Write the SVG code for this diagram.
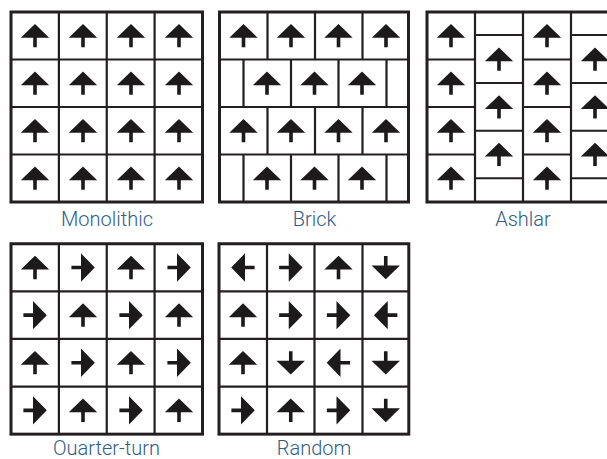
<svg xmlns="http://www.w3.org/2000/svg" xmlns:xlink="http://www.w3.org/1999/xlink" width="607" height="459" viewBox="0 0 607 459">
<defs>
<style>
.bg{fill:#ffffff}
.outer{fill:none;stroke:#231f20;stroke-width:3}
.inner{fill:none;stroke:#231f20;stroke-width:2.2}
.arr{fill:#1c1a1b}
.lbl{font-family:Roboto,"Liberation Sans",sans-serif;font-weight:300;font-size:20px;fill:#2f5d87;text-anchor:middle}
</style>
<path id="a" class="arr" d="M0,-11.8 L14.2,2 L1.8,2 L1.8,11.6 L-1.8,11.6 L-1.8,2 L-14.2,2 Z"/>
</defs>
<rect class="bg" x="0" y="0" width="607" height="459"/>

<g id="monolithic">
<path class="inner" d="M58.9,12V202M106.75,12V202M154.6,12V202M11,59.5H202.5M11,107H202.5M11,154.5H202.5"/>
<rect class="outer" x="11" y="12" width="191.5" height="190"/>
<use xlink:href="#a" transform="translate(35,35.75)"/>
<use xlink:href="#a" transform="translate(83,35.75)"/>
<use xlink:href="#a" transform="translate(131,35.75)"/>
<use xlink:href="#a" transform="translate(179,35.75)"/>
<use xlink:href="#a" transform="translate(35,83.25)"/>
<use xlink:href="#a" transform="translate(83,83.25)"/>
<use xlink:href="#a" transform="translate(131,83.25)"/>
<use xlink:href="#a" transform="translate(179,83.25)"/>
<use xlink:href="#a" transform="translate(35,130.75)"/>
<use xlink:href="#a" transform="translate(83,130.75)"/>
<use xlink:href="#a" transform="translate(131,130.75)"/>
<use xlink:href="#a" transform="translate(179,130.75)"/>
<use xlink:href="#a" transform="translate(35,178.25)"/>
<use xlink:href="#a" transform="translate(83,178.25)"/>
<use xlink:href="#a" transform="translate(131,178.25)"/>
<use xlink:href="#a" transform="translate(179,178.25)"/>
<text class="lbl" x="107" y="226">Monolithic</text>
</g>

<g id="brick">
<path class="inner" d="M219,59.5H409M219,107H409M219,154.5H409
M267.5,12V59.5M315,12V59.5M362.5,12V59.5
M243.5,59.5V107M291,59.5V107M338.5,59.5V107M386.5,59.5V107
M267.5,107V154.5M315,107V154.5M362.5,107V154.5
M243.5,154.5V202M291,154.5V202M338.5,154.5V202M386.5,154.5V202"/>
<rect class="outer" x="219.5" y="12" width="189" height="190"/>
<use xlink:href="#a" transform="translate(243.5,35.75)"/>
<use xlink:href="#a" transform="translate(291,35.75)"/>
<use xlink:href="#a" transform="translate(338.5,35.75)"/>
<use xlink:href="#a" transform="translate(386,35.75)"/>
<use xlink:href="#a" transform="translate(267,83.25)"/>
<use xlink:href="#a" transform="translate(314.5,83.25)"/>
<use xlink:href="#a" transform="translate(362,83.25)"/>
<use xlink:href="#a" transform="translate(243.5,130.75)"/>
<use xlink:href="#a" transform="translate(291,130.75)"/>
<use xlink:href="#a" transform="translate(338.5,130.75)"/>
<use xlink:href="#a" transform="translate(386,130.75)"/>
<use xlink:href="#a" transform="translate(267,178.25)"/>
<use xlink:href="#a" transform="translate(314.5,178.25)"/>
<use xlink:href="#a" transform="translate(362,178.25)"/>
<text class="lbl" x="314.5" y="226">Brick</text>
</g>

<g id="ashlar">
<path class="inner" d="M475,12V202M523,12V202M571,12V202
M427,59.5H475M427,107H475M427,154.5H475
M523,59.5H571M523,107H571M523,154.5H571
M475,35H523M475,83H523M475,130.75H523M475,178.25H523
M571,35H619M571,83H619M571,130.75H619M571,178.25H619"/>
<rect class="outer" x="427" y="12" width="192" height="190"/>
<use xlink:href="#a" transform="translate(451,35.75)"/>
<use xlink:href="#a" transform="translate(451,83.25)"/>
<use xlink:href="#a" transform="translate(451,130.75)"/>
<use xlink:href="#a" transform="translate(451,178.25)"/>
<use xlink:href="#a" transform="translate(547,35.75)"/>
<use xlink:href="#a" transform="translate(547,83.25)"/>
<use xlink:href="#a" transform="translate(547,130.75)"/>
<use xlink:href="#a" transform="translate(547,178.25)"/>
<use xlink:href="#a" transform="translate(499,59.25)"/>
<use xlink:href="#a" transform="translate(499,107)"/>
<use xlink:href="#a" transform="translate(499,154.5)"/>
<use xlink:href="#a" transform="translate(595,59.25)"/>
<use xlink:href="#a" transform="translate(595,107)"/>
<use xlink:href="#a" transform="translate(595,154.5)"/>
<text class="lbl" x="523" y="226">Ashlar</text>
</g>

<g id="quarter-turn">
<path class="inner" d="M58.9,243.75V434.15M106.75,243.75V434.15M154.6,243.75V434.15M11,291.35H202.5M11,338.95H202.5M11,386.55H202.5"/>
<rect class="outer" x="11" y="243.75" width="191.5" height="190.4"/>
<use xlink:href="#a" transform="translate(35,267.55)"/>
<use xlink:href="#a" transform="translate(83,267.55) rotate(90)"/>
<use xlink:href="#a" transform="translate(131,267.55)"/>
<use xlink:href="#a" transform="translate(179,267.55) rotate(90)"/>
<use xlink:href="#a" transform="translate(35,315.15) rotate(90)"/>
<use xlink:href="#a" transform="translate(83,315.15)"/>
<use xlink:href="#a" transform="translate(131,315.15) rotate(90)"/>
<use xlink:href="#a" transform="translate(179,315.15)"/>
<use xlink:href="#a" transform="translate(35,362.75)"/>
<use xlink:href="#a" transform="translate(83,362.75) rotate(90)"/>
<use xlink:href="#a" transform="translate(131,362.75)"/>
<use xlink:href="#a" transform="translate(179,362.75) rotate(90)"/>
<use xlink:href="#a" transform="translate(35,410.35) rotate(90)"/>
<use xlink:href="#a" transform="translate(83,410.35)"/>
<use xlink:href="#a" transform="translate(131,410.35) rotate(90)"/>
<use xlink:href="#a" transform="translate(179,410.35)"/>
<text class="lbl" x="106.5" y="455">Ouarter-turn</text>
</g>

<g id="random">
<path class="inner" d="M267,243.75V434.15M314.5,243.75V434.15M362.5,243.75V434.15M219,291.35H409M219,338.95H409M219,386.55H409"/>
<rect class="outer" x="219" y="243.75" width="189.8" height="190.4"/>
<use xlink:href="#a" transform="translate(243,267.55) rotate(-90)"/>
<use xlink:href="#a" transform="translate(290.75,267.55) rotate(90)"/>
<use xlink:href="#a" transform="translate(338.5,267.55)"/>
<use xlink:href="#a" transform="translate(385.75,267.55) rotate(180)"/>
<use xlink:href="#a" transform="translate(243,315.15)"/>
<use xlink:href="#a" transform="translate(290.75,315.15) rotate(90)"/>
<use xlink:href="#a" transform="translate(338.5,315.15) rotate(90)"/>
<use xlink:href="#a" transform="translate(385.75,315.15) rotate(-90)"/>
<use xlink:href="#a" transform="translate(243,362.75)"/>
<use xlink:href="#a" transform="translate(290.75,362.75) rotate(180)"/>
<use xlink:href="#a" transform="translate(338.5,362.75) rotate(-90)"/>
<use xlink:href="#a" transform="translate(385.75,362.75) rotate(180)"/>
<use xlink:href="#a" transform="translate(243,410.35) rotate(90)"/>
<use xlink:href="#a" transform="translate(290.75,410.35)"/>
<use xlink:href="#a" transform="translate(338.5,410.35) rotate(90)"/>
<use xlink:href="#a" transform="translate(385.75,410.35) rotate(180)"/>
<text class="lbl" x="314" y="455">Random</text>
</g>
</svg>
